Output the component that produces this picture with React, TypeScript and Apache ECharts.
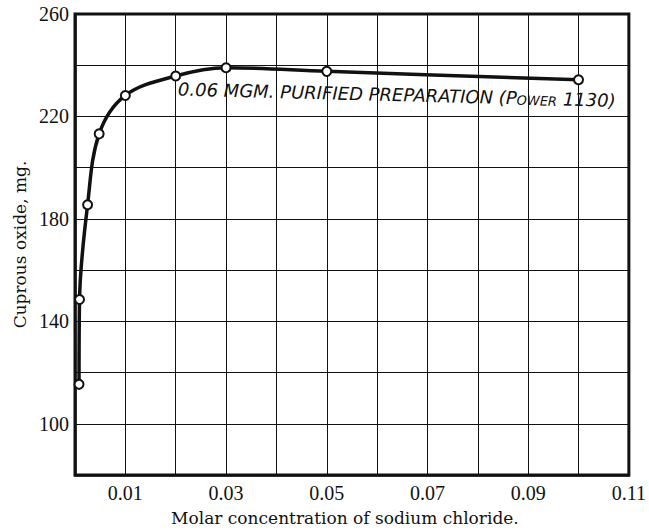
import React, { useEffect, useRef } from 'react';
import * as echarts from 'echarts';

// Molar concentration of NaCl (x) vs cuprous oxide in mg (y)
const concentration = [0.0008, 0.0009, 0.0025, 0.0048, 0.01, 0.02, 0.03, 0.05, 0.1];
const cuprousOxide = [115.4, 148.5, 185.5, 213.2, 228.2, 235.8, 239.0, 237.6, 234.3];
const xLabeledTicks = [0.01, 0.03, 0.05, 0.07, 0.09, 0.11];
const yLabeledTicks = [100, 140, 180, 220, 260];
const xTitle = 'Molar concentration of sodium chloride.';
const yTitle = 'Cuprous oxide, mg.';
const noteMain = '0.06 MGM. PURIFIED PREPARATION (P';
const noteSmall = 'OWER';
const noteEnd = ' 1130)';

const INK = '#111';

export default function App() {
  const ref = useRef<HTMLDivElement>(null);
  useEffect(() => {
    if (!ref.current) return;
    const chart = echarts.init(ref.current, undefined, { renderer: 'svg' });
    const data = concentration.map((x, i) => [x, cuprousOxide[i]]);
    chart.setOption({
      animation: false,
      backgroundColor: '#fff',
      grid: {
        left: 75,
        top: 14,
        right: 19,
        bottom: 54,
        show: true,
        borderColor: INK,
        borderWidth: 3,
        backgroundColor: 'transparent',
      },
      xAxis: {
        type: 'value',
        min: 0,
        max: 0.11,
        interval: 0.01,
        name: xTitle,
        nameLocation: 'middle',
        nameGap: 34,
        nameTextStyle: {
          fontFamily: '"DejaVu Serif"',
          fontSize: 17,
          color: INK,
          padding: [0, 14, 0, 0],
        },
        axisLine: { show: true, lineStyle: { color: INK, width: 2.5 } },
        axisTick: { show: false },
        axisLabel: {
          margin: 8,
          fontFamily: '"Liberation Serif"',
          fontSize: 20,
          color: INK,
          formatter: (v: number) =>
            xLabeledTicks.some((t) => Math.abs(t - v) < 1e-6) ? v.toFixed(2) : '',
        },
        splitLine: { show: true, lineStyle: { color: INK, width: 1 } },
      },
      yAxis: {
        type: 'value',
        min: 80,
        max: 260,
        interval: 20,
        name: yTitle,
        nameLocation: 'middle',
        nameGap: 44,
        nameTextStyle: {
          fontFamily: '"DejaVu Serif"',
          fontSize: 17,
          color: INK,
        },
        axisLine: { show: true, lineStyle: { color: INK, width: 2.5 } },
        axisTick: { show: false },
        axisLabel: {
          margin: 6,
          fontFamily: '"Liberation Serif"',
          fontSize: 20,
          color: INK,
          formatter: (v: number) =>
            yLabeledTicks.some((t) => Math.abs(t - v) < 1e-6) ? String(Math.round(v)) : '',
        },
        splitLine: { show: true, lineStyle: { color: INK, width: 1 } },
      },
      graphic: [
        {
          type: 'text',
          x: 178,
          y: 89,
          rotation: -0.026,
          z: 100,
          style: {
            text: `{a|${noteMain}}{s|${noteSmall}}{a|${noteEnd}}`,
            textVerticalAlign: 'middle',
            fill: INK,
            rich: {
              a: {
                fontFamily: '"DejaVu Sans"',
                fontStyle: 'italic',
                fontSize: 18,
                fill: INK,
                color: INK,
              },
              s: {
                fontFamily: '"DejaVu Sans"',
                fontStyle: 'italic',
                fontSize: 13,
                fill: INK,
                color: INK,
                verticalAlign: 'bottom',
              },
            },
          },
        },
      ],
      series: [
        {
          type: 'line',
          data,
          smooth: 0.35,
          symbol: 'circle',
          symbolSize: 9,
          showSymbol: true,
          lineStyle: { color: INK, width: 3.5 },
          itemStyle: { color: '#fff', borderColor: INK, borderWidth: 2 },
          z: 5,
        },
      ],
    });
    return () => chart.dispose();
  }, []);
  return (
    <div
      ref={ref}
      style={{ position: 'fixed', left: 0, top: 0, width: 649, height: 531, background: '#fff' }}
    />
  );
}
